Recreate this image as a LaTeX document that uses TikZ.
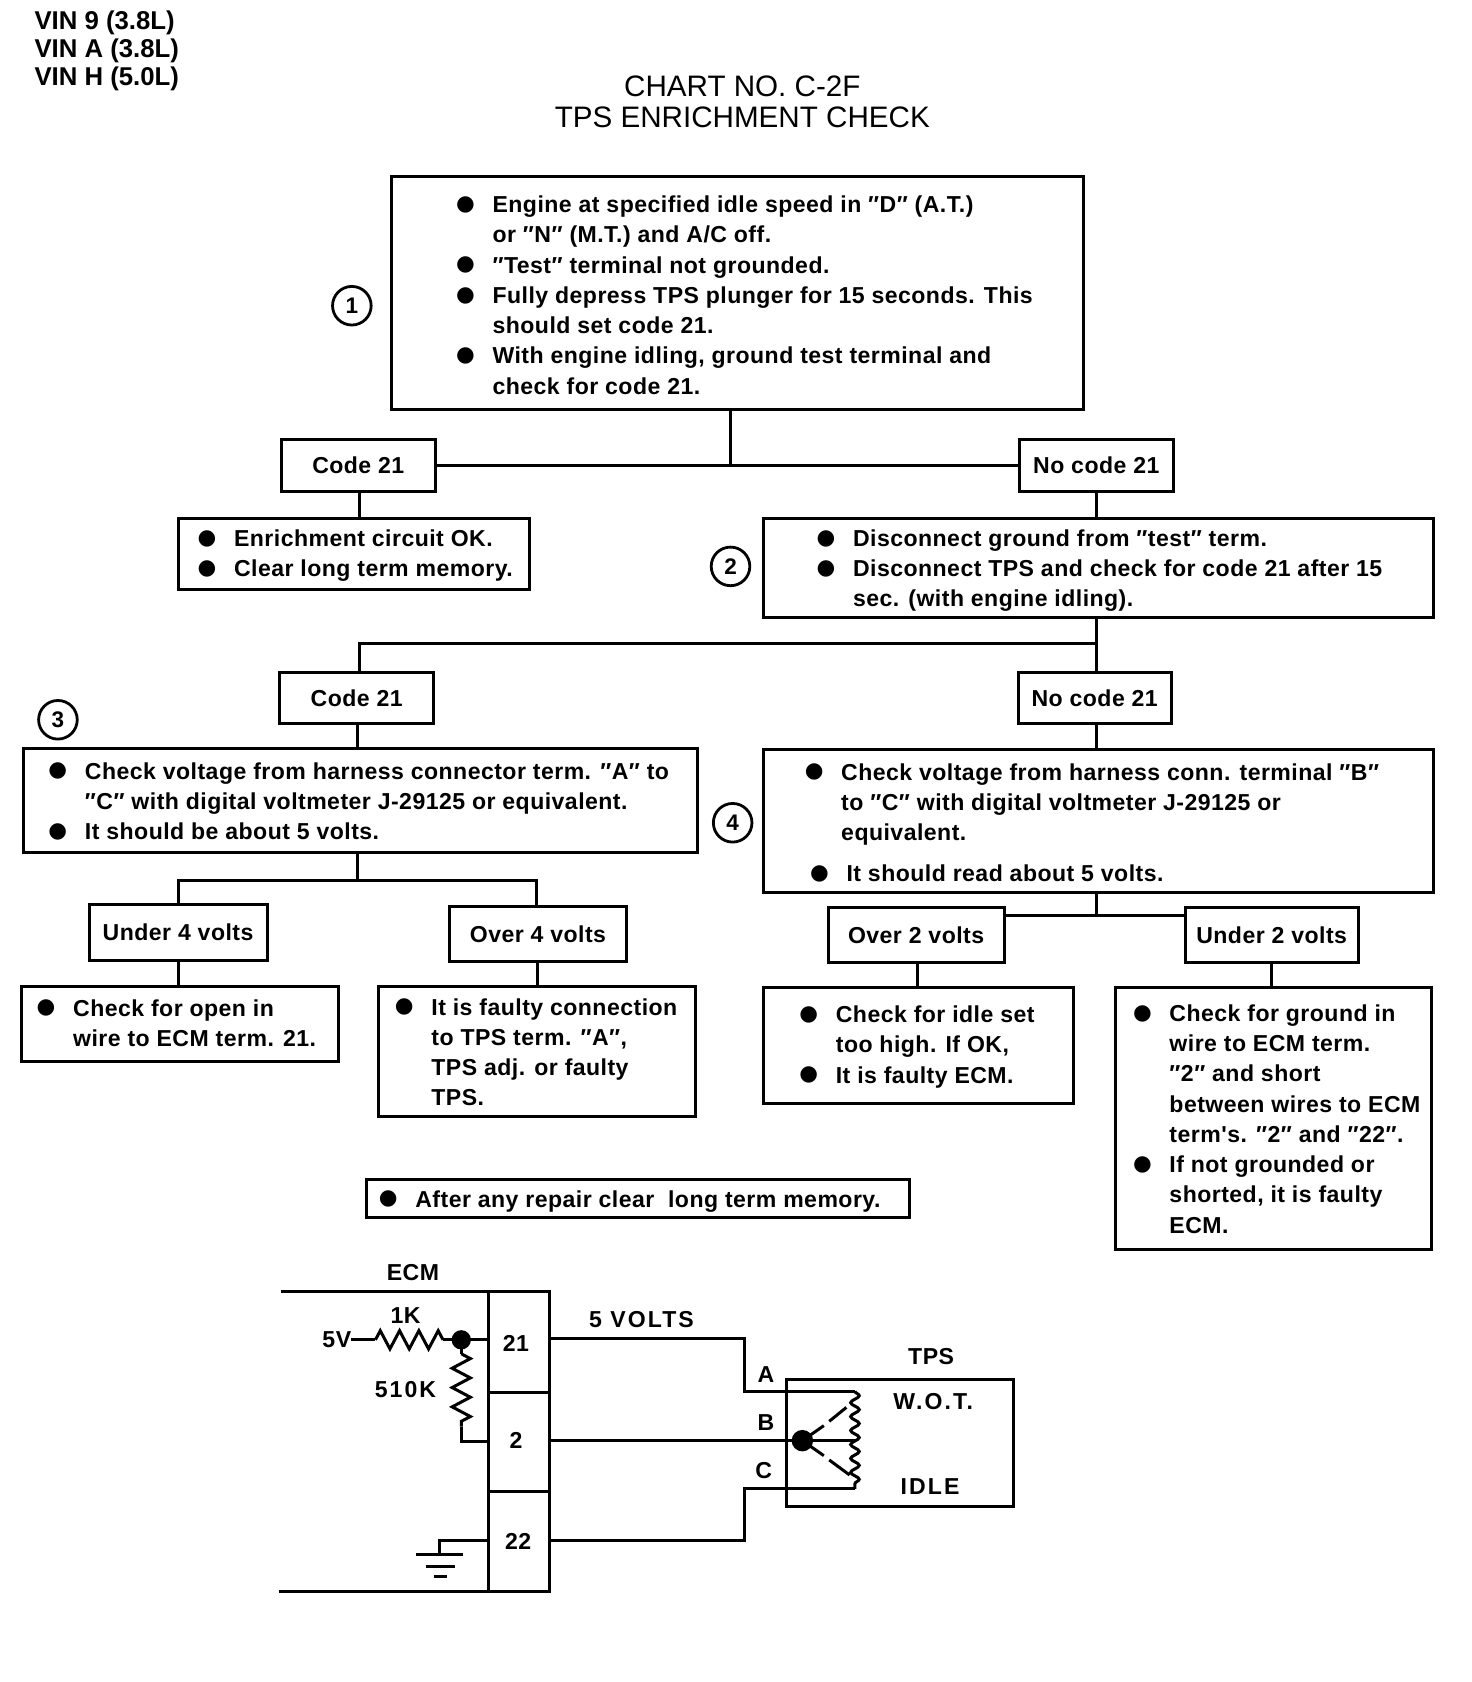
\documentclass[tikz,border=0pt]{standalone}
\usepackage{fontspec}
\setmainfont{Liberation Sans}
\newfontfamily\bodyfont[LetterSpace=2]{Liberation Sans}
\newfontfamily\widefont[LetterSpace=9]{Liberation Sans}
\newfontfamily\dotfont{DejaVu Sans}
\usetikzlibrary{calc,decorations.pathmorphing}
\newcommand{\blt}{\rule{0pt}{16pt}\makebox[32pt][l]{\hspace*{-2pt}\smash{\raisebox{2pt}{\dotfont\fontsize{20}{28}\selectfont\char"25CF\relax}}}}
\newcommand{\ind}{\rule{0pt}{16pt}\hspace*{32pt}}
\newcommand{\qq}{\char"2033\relax}
\tikzset{
  flowbox/.style={draw=black, line width=2.8pt, fill=white, anchor=north west, inner sep=0pt, outer sep=0pt},
  txt/.style={anchor=north west, inner sep=0pt, align=left, font=\bodyfont\fontsize{21.5}{28.2}\selectfont\bfseries},
  lbl/.style={inner sep=0pt, font=\bodyfont\fontsize{21.5}{26}\selectfont\bfseries},
  widelbl/.style={inner sep=0pt, font=\widefont\fontsize{21.5}{26}\selectfont\bfseries},
  ttl/.style={inner sep=0pt, align=center, font=\fontsize{27.6}{29}\selectfont},
  num/.style={draw=black, circle, line width=2.6pt, minimum size=36pt, inner sep=0pt, font=\fontsize{21}{26}\selectfont\bfseries},
  wire/.style={draw=black, line width=2.8pt},
  res/.style={wire, decorate, decoration={zigzag, segment length=18pt, amplitude=8.5pt}}
}
\begin{document}
\begin{tikzpicture}[x=1pt,y=-1pt]
\useasboundingbox (0,0) rectangle (1372,1568);

\node[anchor=north west, inner sep=0pt, align=left, font=\fontsize{24}{26}\selectfont\bfseries] (vin) at (32,10) {VIN 9 (3.8L)\\VIN A (3.8L)\\VIN H (5.0L)};
\node[ttl] (title) at (692,95) {CHART NO. C-2F\\TPS ENRICHMENT CHECK};

\node[flowbox, minimum width=645pt, minimum height=217pt] (check1) at (365,165) {};
\node[txt] (check1t) at (427,182) {\blt Engine at specified idle speed in \qq D\qq{} (A.T.)\\\ind or \qq N\qq{} (M.T.) and A/C off.\\\blt \qq Test\qq{} terminal not grounded.\\\blt Fully depress TPS plunger for 15 seconds. This\\\ind should set code 21.\\\blt With engine idling, ground test terminal and\\\ind check for code 21.};
\node[num] (n1) at (328,285) {1};

\node[flowbox, minimum width=144pt, minimum height=48pt] (codea) at (262,410) {};
\node[lbl] at (codea.center) {Code 21};
\node[flowbox, minimum width=144pt, minimum height=48pt] (nocodea) at (950,410) {};
\node[lbl] at (nocodea.center) {No code 21};
\draw[wire] (681,382) -- (681,435);
\draw[wire] (codea.east) -- (nocodea.west);

\node[flowbox, minimum width=328pt, minimum height=67pt] (okbox) at (166,483) {};
\node[txt] (okboxt) at (186,493) {\blt Enrichment circuit OK.\\\blt Clear long term memory.};
\draw[wire] (335,458) -- (335,483);

\node[flowbox, minimum width=624pt, minimum height=93pt] (check2) at (712,483) {};
\node[txt] (check2t) at (763,493) {\blt Disconnect ground from \qq test\qq{} term.\\\blt Disconnect TPS and check for code 21 after 15\\\ind sec. (with engine idling).};
\node[num] (n2) at (681,528) {2};
\draw[wire] (1022,458) -- (1022,483);

\node[flowbox, minimum width=143pt, minimum height=47pt] (codeb) at (261,627) {};
\node[lbl] at (codeb.center) {Code 21};
\node[flowbox, minimum width=143pt, minimum height=47pt] (nocodeb) at (949,627) {};
\node[lbl] at (nocodeb.center) {No code 21};
\draw[wire] (1022,576) -- (1022,627);
\draw[wire] (1022,600) -- (335,600) -- (335,627);

\node[flowbox, minimum width=628pt, minimum height=97pt] (check3) at (22,698) {};
\node[txt] (check3t) at (47,710) {\blt Check voltage from harness connector term. \qq A\qq{} to\\\ind \qq C\qq{} with digital voltmeter J-29125 or equivalent.\\\blt It should be about 5 volts.};
\node[num] (n3) at (54,671) {3};
\draw[wire] (333,674) -- (333,698);

\node[flowbox, minimum width=624pt, minimum height=133pt] (check4) at (712,699) {};
\node[txt] (check4t) at (752,711) {\blt Check voltage from harness conn. terminal \qq B\qq\\\ind to \qq C\qq{} with digital voltmeter J-29125 or\\\ind equivalent.\\[10pt]\hspace*{5pt}\blt It should read about 5 volts.};
\node[num] (n4) at (683,767) {4};
\draw[wire] (1022,674) -- (1022,699);

\node[flowbox, minimum width=166pt, minimum height=52pt] (under4) at (83,843) {};
\node[lbl] at (under4.center) {Under 4 volts};
\node[flowbox, minimum width=165pt, minimum height=51pt] (over4) at (419,845) {};
\node[lbl] at (over4.center) {Over 4 volts};
\draw[wire] (333,795) -- (333,821);
\draw[wire] (166,843) -- (166,821) -- (500,821) -- (500,845);

\node[flowbox, minimum width=164pt, minimum height=51pt] (over2) at (772,846) {};
\node[lbl] at (over2.center) {Over 2 volts};
\node[flowbox, minimum width=161pt, minimum height=51pt] (under2) at (1105,846) {};
\node[lbl] at (under2.center) {Under 2 volts};
\draw[wire] (1022,832) -- (1022,853);
\draw[wire] (936,853) -- (1105,853);

\node[flowbox, minimum width=296pt, minimum height=70pt] (checka) at (20,920) {};
\node[txt] (checkat) at (36,931) {\blt Check for open in\\\ind wire to ECM term. 21.};
\draw[wire] (166,895) -- (166,920);

\node[flowbox, minimum width=295pt, minimum height=121pt] (checkb) at (353,920) {};
\node[txt] (checkbt) at (370,930) {\blt It is faulty connection\\\ind to TPS term. \qq A\qq,\\\ind TPS adj. or faulty\\\ind TPS.};
\draw[wire] (501,896) -- (501,920);

\node[flowbox, minimum width=289pt, minimum height=108pt] (checkc) at (712,921) {};
\node[txt] (checkct) at (747,937) {\blt Check for idle set\\\ind too high. If OK,\\\blt It is faulty ECM.};
\draw[wire] (855,897) -- (855,921);

\node[flowbox, minimum width=294pt, minimum height=244pt] (checkd) at (1040,921) {};
\node[txt] (checkdt) at (1058,936) {\blt Check for ground in\\\ind wire to ECM term.\\\ind \qq 2\qq{} and short\\\ind between wires to ECM\\\ind term's. \qq 2\qq{} and \qq 22\qq.\\\blt If not grounded or\\\ind shorted, it is faulty\\\ind ECM.};
\draw[wire] (1185,897) -- (1185,921);

\node[flowbox, minimum width=506pt, minimum height=35pt] (note) at (342,1100) {};
\node[txt] (notet) at (355,1109) {\blt After any repair clear \ long term memory.};

% circuit
\node[lbl] (ecm) at (385,1186) {ECM};
\node[flowbox, minimum width=57pt, minimum height=94pt] (t21) at (455,1204) {};
\node[lbl] at (481,1252) {21};
\node[flowbox, minimum width=57pt, minimum height=92pt] (t2) at (455,1298) {};
\node[lbl] at (481,1343) {2};
\node[flowbox, minimum width=57pt, minimum height=94pt] (t22) at (455,1390) {};
\node[lbl] at (483,1437) {22};
\draw[wire] (262,1204) -- (t21.north west);
\draw[wire] (260,1484) -- (t22.south west);

\node[lbl] (v5) at (314,1249) {5V};
\node[lbl] (r1k) at (378,1226) {1K};
\node[widelbl] (r510k) at (378,1295) {510K};
\coordinate (d1) at (430,1249);
\draw[wire] (v5.east) -- (350,1249);
\draw[res] (350,1249) -- (413,1249);
\draw[wire] (413,1249) -- (455,1249);
\fill (d1) circle (9pt);
\draw[wire] (d1) -- (430,1262);
\draw[res] (430,1262) -- (430,1330);
\draw[wire] (430,1330) -- (430,1344) -- (455,1344);

\coordinate (gnd) at (410,1449);
\draw[wire] (455,1436) -- (410,1436) -- (gnd);
\draw[wire] (388,1449) -- (432,1449);
\draw[wire] (397,1460) -- (424,1460);
\draw[wire] (405,1470) -- (417,1470);

\node[widelbl] (volts) at (598,1230) {5 VOLTS};
\node[flowbox, minimum width=212pt, minimum height=118pt] (tps) at (733,1286) {};
\node[lbl] (tpsl) at (868,1265) {TPS};
\node[widelbl] (wot) at (870,1307) {W.O.T.};
\node[widelbl] (idle) at (867,1386) {IDLE};
\node[lbl] at (714,1281) {A};
\node[lbl] at (714,1326) {B};
\node[lbl] at (712,1371) {C};

\coordinate (wa) at (797,1297);
\coordinate (wb) at (797,1343);
\coordinate (wc) at (797,1388);
\draw[wire] (512,1248) -- (694,1248) -- (694,1297) -- (wa);
\draw[wire] (512,1343) -- (wb);
\draw[wire] (512,1436) -- (694,1436) -- (694,1388) -- (wc);
\draw[wire, decorate, decoration={snake, segment length=13pt, amplitude=4pt}] (wa) -- (wc);
\fill (748,1343) circle (10pt);
\draw[wire] (748,1343) -- (768,1329);
\draw[wire] (773,1325) -- (789,1312);
\draw[wire] (748,1343) -- (768,1357);
\draw[wire] (773,1361) -- (792,1375);
\end{tikzpicture}
\end{document}
